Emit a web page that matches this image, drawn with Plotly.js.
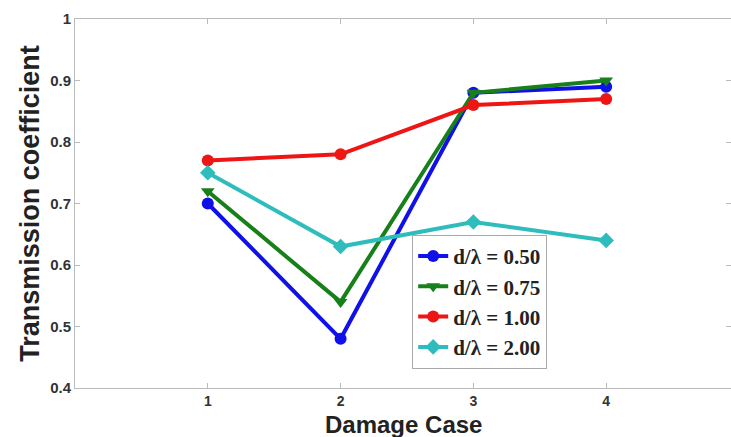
<!DOCTYPE html>
<html><head><meta charset="utf-8">
<script src="https://cdn.plot.ly/plotly-3.0.1.min.js"></script>
<style>html,body{margin:0;padding:0;background:#fff}#plot{width:731px;height:437px}</style>
</head><body><div id="plot"></div>
<script>
const cases = [1, 2, 3, 4];
const seriesNames = ['d/λ = 0.50', 'd/λ = 0.75', 'd/λ = 1.00', 'd/λ = 2.00'];
const tc050 = [0.70, 0.48, 0.88, 0.89];
const tc075 = [0.72, 0.54, 0.88, 0.90];
const tc100 = [0.77, 0.78, 0.86, 0.87];
const tc200 = [0.75, 0.63, 0.67, 0.64];
const yTicks = [0.4, 0.5, 0.6, 0.7, 0.8, 0.9, 1];
const xTicks = [1, 2, 3, 4];
const xTitle = 'Damage Case';
const yTitle = 'Transmission coefficient';

const colors = ['#1010e8', '#17801a', '#ee1515', '#2ebcbc'];
const symbols = ['circle', 'triangle-down', 'circle', 'diamond'];
const vals = [tc050, tc075, tc100, tc200];

const traces = vals.map((v, i) => ({
  x: cases, y: v, name: seriesNames[i], type: 'scatter', mode: 'lines+markers',
  line: {color: colors[i], width: 4},
  marker: {color: colors[i], symbol: symbols[i], size: 12}
}));

const axFont = {family: 'Liberation Sans, Arial, sans-serif', size: 15, color: '#333', weight: 'bold'};
const xTickFont = {family: 'Liberation Sans, Arial, sans-serif', size: 14, color: '#333', weight: 'bold'};
const titleFont = {family: 'Liberation Sans, Arial, sans-serif', size: 24, color: '#222', weight: 'bold'};
const layout = {
  width: 731, height: 437,
  margin: {l: 75, r: 0, t: 19, b: 49},
  paper_bgcolor: '#fff', plot_bgcolor: '#fff',
  showlegend: true,
  legend: {
    x: 0.514, y: 0.415, xanchor: 'left', yanchor: 'top',
    bgcolor: '#fff', bordercolor: '#aaa', borderwidth: 1,
    font: {family: 'Liberation Serif, Times New Roman, serif', size: 21, color: '#222', weight: 'bold'},
    itemwidth: 30, tracegroupgap: 0
  },
  xaxis: {
    range: [0, 4.94], tickvals: xTicks, ticktext: xTicks.map(String),
    showgrid: false, zeroline: false, showline: true, linecolor: '#bbb', linewidth: 1,
    mirror: 'ticks', ticks: 'inside', ticklen: 5, tickcolor: '#bbb',
    tickfont: xTickFont
  },
  yaxis: {
    range: [0.4, 1], tickvals: yTicks,
    showgrid: false, zeroline: false, showline: true, linecolor: '#bbb', linewidth: 1,
    mirror: 'ticks', ticks: 'inside', ticklen: 5, tickcolor: '#bbb',
    tickfont: axFont,
    title: {text: yTitle, font: {family: 'Liberation Sans, Arial, sans-serif', size: 27, color: '#222', weight: 'bold'}, standoff: 2}
  },
  annotations: [{
    text: xTitle, xref: 'paper', yref: 'paper', x: 0.5, y: 0,
    xanchor: 'center', yanchor: 'middle', yshift: -36, borderpad: 0,
    showarrow: false, font: titleFont
  }]
};
Plotly.newPlot('plot', traces, layout, {displayModeBar: false, staticPlot: true});
</script></body></html>
